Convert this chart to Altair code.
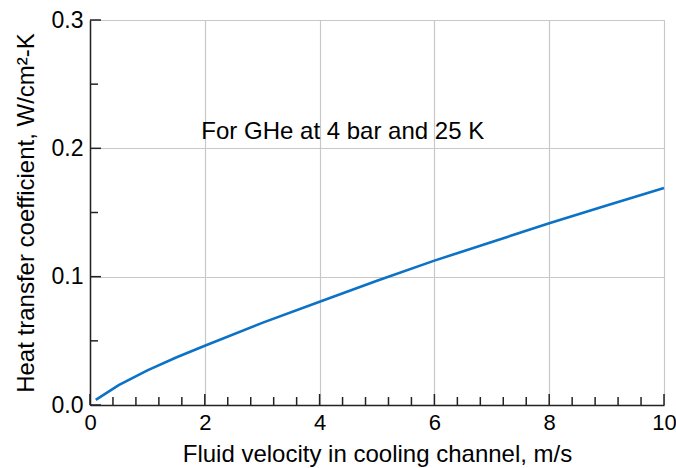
import altair as alt
import pandas as pd

# Curve data
velocity = [0.1, 0.5, 1.0, 1.5, 2.0, 3.0, 4.0, 5.0, 6.0, 7.0, 8.0, 9.0, 10.0]
htc = [0.004, 0.0155, 0.027, 0.037, 0.0462, 0.064, 0.0805, 0.0968, 0.1125, 0.127, 0.1416, 0.1555, 0.169]

# Axis ticks
x_major = [0, 2, 4, 6, 8, 10]
x_minor = [0.4, 0.8, 1.2, 1.6, 2.4, 2.8, 3.2, 3.6, 4.4, 4.8, 5.2, 5.6,
           6.4, 6.8, 7.2, 7.6, 8.4, 8.8, 9.2, 9.6]
y_major = [0.0, 0.1, 0.2, 0.3]
y_minor = [0.05, 0.15, 0.25]

# Annotation
note_text = ["For GHe at 4 bar and 25 K"]
note_x = [1.94]
note_y = [0.207]

W, H = 574, 385
FONT = "Liberation Sans"
LINE_COLOR = "#0b72c6"
AX_COLOR = "#222222"

df = pd.DataFrame({"v": velocity, "h": htc})
xs = alt.Scale(domain=[0, 10], nice=False, zero=False)
ys = alt.Scale(domain=[0, 0.3], nice=False, zero=False)

x_axis = alt.Axis(values=x_major, grid=True, gridColor="#c8c8c8", gridWidth=1.2,
                  ticks=False, domainColor=AX_COLOR, domainWidth=1.5, format="d",
                  labelFlush=False, labelOverlap=False,
                  labelFont=FONT, labelFontSize=22, labelColor="black", labelPadding=7,
                  title="Fluid velocity in cooling channel, m/s", titleFont=FONT,
                  titleFontSize=24, titleFontWeight="normal", titleColor="black",
                  titleBaseline="alphabetic", titleY=56)
y_axis = alt.Axis(values=y_major, grid=True, gridColor="#c8c8c8", gridWidth=1.2,
                  ticks=False, domainColor=AX_COLOR, domainWidth=1.5, format=".1f",
                  labelFlush=False, labelOverlap=False,
                  labelFont=FONT, labelFontSize=23, labelColor="black", labelPadding=7,
                  title="Heat transfer coefficient, W/cm²-K", titleFont=FONT,
                  titleFontSize=24, titleFontWeight="normal", titleColor="black",
                  titleBaseline="alphabetic", titleX=-57)

XT = "Fluid velocity in cooling channel, m/s"
YT = "Heat transfer coefficient, W/cm²-K"

line = alt.Chart(df).mark_line(color=LINE_COLOR, strokeWidth=2.6).encode(
    x=alt.X("v:Q", scale=xs, axis=x_axis, title=XT),
    y=alt.Y("h:Q", scale=ys, axis=y_axis, title=YT),
)

def xticks(vals, length):
    d = pd.DataFrame({"t": vals})
    return alt.Chart(d).mark_rule(color=AX_COLOR, strokeWidth=1.5).encode(
        x=alt.X("t:Q", scale=xs, axis=x_axis, title=XT),
        y=alt.value(H), y2=alt.value(H - length))

def yticks(vals, length):
    d = pd.DataFrame({"t": vals})
    return alt.Chart(d).mark_rule(color=AX_COLOR, strokeWidth=1.5).encode(
        y=alt.Y("t:Q", scale=ys, axis=y_axis, title=YT),
        x=alt.value(0), x2=alt.value(length))

note = alt.Chart(pd.DataFrame({"x": note_x, "y": note_y, "t": note_text})).mark_text(
    font=FONT, fontSize=24, color="black", align="left", baseline="alphabetic"
).encode(
    x=alt.X("x:Q", scale=xs, axis=x_axis, title=XT),
    y=alt.Y("y:Q", scale=ys, axis=y_axis, title=YT),
    text="t:N")

chart = alt.layer(
    line, xticks(x_major, 11), xticks(x_minor, 8), yticks(y_major, 11), yticks(y_minor, 8), note
).properties(
    width=W, height=H,
    autosize=alt.AutoSizeParams(type="none"),
    padding={"left": 90, "top": 20, "right": 12, "bottom": 63},
).configure_view(stroke=None).configure(background="white")

chart.save("out.html", embed_options={"renderer": "svg", "actions": False})
